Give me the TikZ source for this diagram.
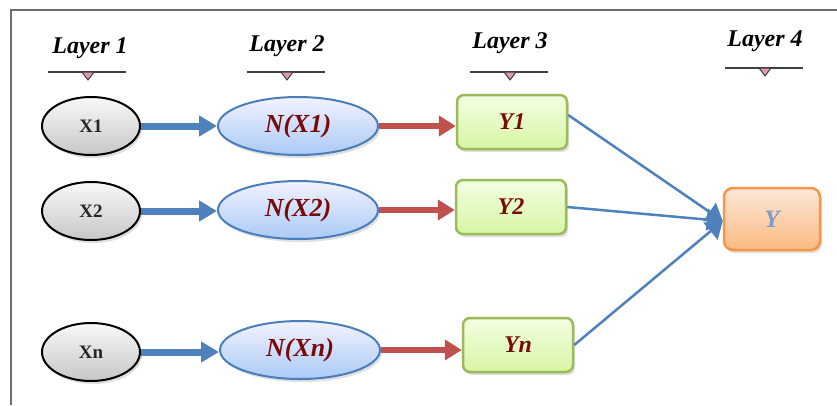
\documentclass[tikz,border=0pt]{standalone}
\usepackage{fontspec}
\setmainfont{Liberation Serif}
\usetikzlibrary{arrows.meta,shadows,calc,shapes.geometric}
\definecolor{arrblue}{HTML}{4F81BD}
\definecolor{arrred}{HTML}{C0504D}
\definecolor{txtred}{HTML}{7A0A0A}
\definecolor{ygray}{HTML}{7F9CC4}
\definecolor{grnline}{HTML}{9BBB59}
\definecolor{orgline}{HTML}{F79646}
\definecolor{nline}{HTML}{4A7EBB}
\definecolor{framegray}{HTML}{6E6E6E}
\definecolor{markpink}{HTML}{E39AAA}
\tikzset{
  xnode/.style={ellipse, draw=black, line width=2pt, minimum width=98pt, minimum height=58pt, inner sep=0pt,
    top color=white!95!gray, bottom color=black!22, drop shadow={opacity=0.25,shadow xshift=2pt,shadow yshift=-3pt},
    font=\fontsize{19}{19}\selectfont\bfseries, text=black!85},
  nnode/.style={ellipse, draw=nline, line width=2pt, minimum width=160pt, minimum height=58pt, inner sep=0pt,
    top color=blue!5, bottom color={rgb,255:red,170;green,202;blue,245}, drop shadow={opacity=0.25,shadow xshift=2pt,shadow yshift=-3pt},
    font=\fontsize{26}{26}\selectfont\bfseries\itshape, text=txtred},
  ynode/.style={rectangle, rounded corners=7pt, draw=grnline, line width=2.5pt, minimum width=110pt, minimum height=54pt, inner sep=0pt,
    top color={rgb,255:red,242;green,255;blue,225}, bottom color={rgb,255:red,215;green,245;blue,165}, drop shadow={opacity=0.25,shadow xshift=2pt,shadow yshift=-3pt},
    font=\fontsize{24}{24}\selectfont\bfseries\itshape, text=txtred},
  onode/.style={rectangle, rounded corners=9pt, draw=orgline, line width=2.5pt, minimum width=96pt, minimum height=62pt, inner sep=0pt,
    top color={rgb,255:red,253;green,232;blue,215}, bottom color={rgb,255:red,251;green,185;blue,130}, drop shadow={opacity=0.25,shadow xshift=2pt,shadow yshift=-3pt},
    font=\fontsize{25}{25}\selectfont\bfseries\itshape, text=ygray},
  layertxt/.style={font=\fontsize{24}{24}\selectfont\bfseries\itshape, text=black},
  bluearr/.style={arrblue, line width=7pt, -{Triangle[length=18pt,width=20pt]}},
  redarr/.style={arrred, line width=6.5pt, -{Triangle[length=17pt,width=20pt]}},
  outarr/.style={arrblue, line width=2.5pt, -{Triangle[length=16pt,width=22pt]}},
  uline/.style={black!75, line width=1.5pt}
}
\begin{document}
\begin{tikzpicture}[x=1pt,y=-1pt]
\useasboundingbox (0,0) rectangle (837,405);
\fill[white] (0,0) rectangle (837,405);
% frame
\draw[framegray, line width=2pt] (11,405) -- (11,10) -- (837,10);
% layer headers
\foreach \lx/\ly/\n/\t in {90/48/1/Layer 1, 287/46/2/Layer 2, 510/43/3/Layer 3, 765/41/4/Layer 4}{
  \node[layertxt] (L\n) at (\lx,\ly) {\t};
}
\foreach \n/\lx/\ly in {1/88/72, 2/287/72, 3/510/72, 4/765/68}{
  \coordinate (U\n) at (\lx,\ly);
  \draw[uline] ($(U\n)+(-40,0)$) -- ($(U\n)+(38,0)$);
  \draw[black!75, fill=markpink, line width=1pt, line join=round] ($(U\n)+(-6,0)$) -- ($(U\n)+(6,0)$) -- ($(U\n)+(0,8)$) -- cycle;
}
% nodes
\node[xnode] (X1) at (91,126) {X1};
\node[xnode] (X2) at (91,211) {X2};
\node[xnode] (Xn) at (91,352) {Xn};
\node[nnode] (N1) at (298,126) {N(X1)};
\node[nnode] (N2) at (298,210) {N(X2)};
\node[nnode] (Nn) at (300,350) {N(Xn)};
\node[ynode] (Y1) at (512,122) {Y1};
\node[ynode] (Y2) at (511,207) {Y2};
\node[ynode] (Yn) at (518,345) {Yn};
\node[onode] (Y) at (772,219) {Y};
% arrows
\draw[bluearr] (X1.east) -- (X1.east -| N1.west);
\draw[bluearr] (X2.east) -- (X2.east -| N2.west);
\draw[bluearr] (Xn.east) -- (Xn.east -| Nn.west);
\draw[redarr] (N1.east) -- (N1.east -| Y1.west);
\draw[redarr] (N2.east) -- (N2.east -| Y2.west);
\draw[redarr] (Nn.east) -- (Nn.east -| Yn.west);
\coordinate (Yin) at ($(Y.west)+(0,2)$);
\draw[outarr] ($(Y1.east)+(0,-7)$) -- (Yin);
\draw[outarr] (Y2.east) -- (Yin);
\draw[outarr] (Yn.east) -- (Yin);
\end{tikzpicture}
\end{document}
